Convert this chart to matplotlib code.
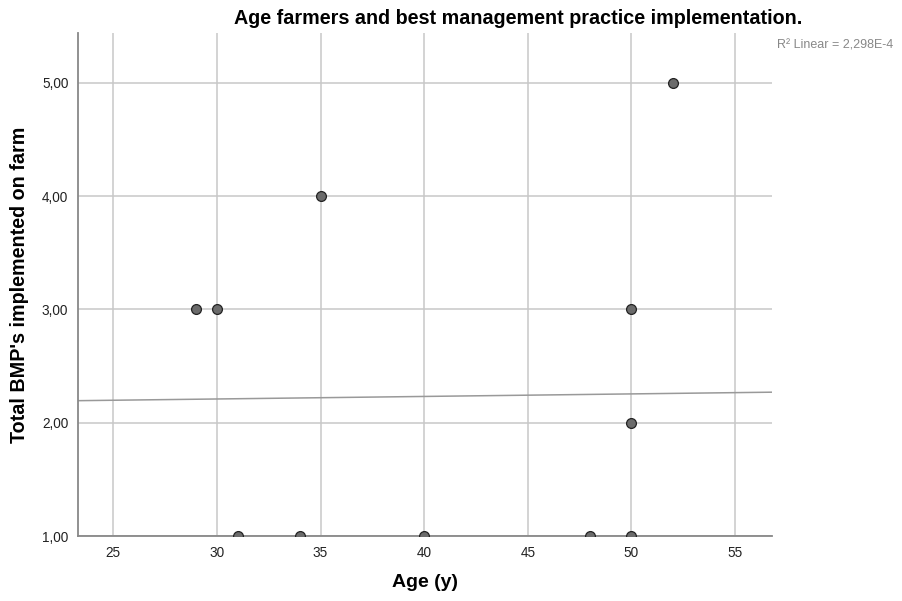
import matplotlib.pyplot as plt
import numpy as np

plt.rcParams['font.family'] = ['Liberation Sans', 'DejaVu Sans']

# data
age = [29, 30, 31, 34, 35, 40, 48, 50, 50, 50, 52]
bmp_total = [3, 3, 1, 1, 4, 1, 1, 1, 2, 3, 5]
x_ticks = [25, 30, 35, 40, 45, 50, 55]
y_ticks = [1, 2, 3, 4, 5]
fit_intercept = 2.143
fit_slope = 0.00224
r2_label = "R² Linear = 2,298E-4"

fig = plt.figure(figsize=(9.03, 6.01), dpi=100)
ax = fig.add_axes([0.0864, 0.108, 0.769, 0.837])

xlim = (23.3, 56.8)
ax.set_xlim(xlim)
ax.set_ylim(1.0, 5.44)

ax.set_xticks(x_ticks)
ax.set_yticks(y_ticks)
ax.set_yticklabels([f"{v:.2f}".replace(".", ",") for v in y_ticks])
ax.tick_params(length=0, labelsize=9.8, pad=7, colors="#222222")
ax.grid(True, color="#c8c8c8", linewidth=1.1)
ax.set_axisbelow(True)

for side in ["top", "right"]:
    ax.spines[side].set_visible(False)
for side in ["left", "bottom"]:
    ax.spines[side].set_color("#888888")
    ax.spines[side].set_linewidth(1.3)

# linear fit line
fx = np.array(xlim)
ax.plot(fx, fit_intercept + fit_slope * fx, color="#999999", linewidth=1.1, zorder=2)

ax.scatter(age, bmp_total, s=50, facecolor="#6b6b6b", edgecolor="#222222",
           linewidth=0.9, zorder=3)

ax.set_xlabel("Age (y)", fontsize=14, fontweight="bold", labelpad=10)
ax.set_ylabel("Total BMP's implemented on farm", fontsize=14.2, fontweight="bold", labelpad=9)
fig.text(0.574, 0.97, "Age farmers and best management practice implementation.",
         ha="center", va="center", fontsize=14.2, fontweight="bold")
fig.text(0.861, 0.925, r2_label, ha="left", va="center", fontsize=9, color="#888888")

fig.savefig("out.png", dpi=100)
